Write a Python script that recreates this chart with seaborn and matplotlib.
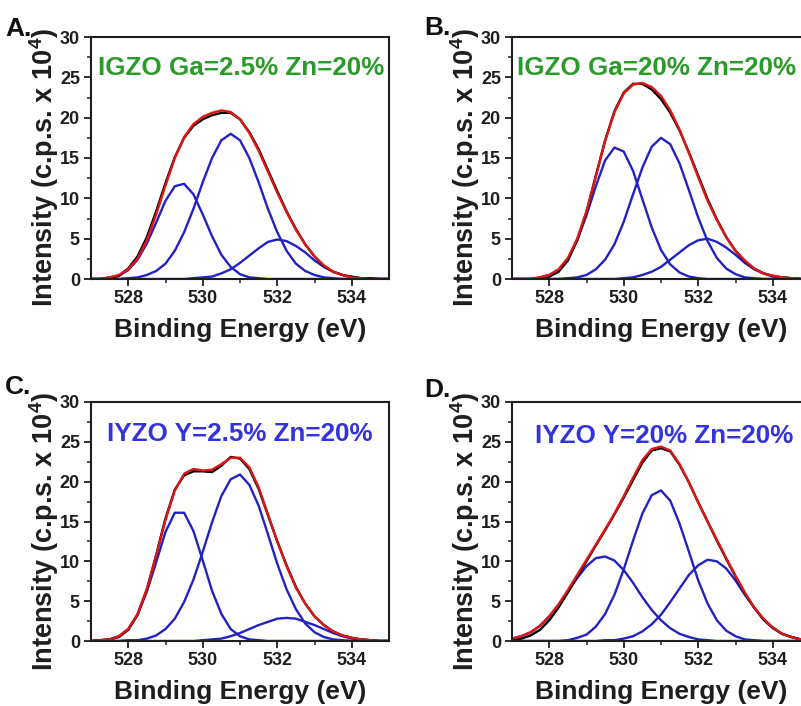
import matplotlib
matplotlib.use("Agg")
import matplotlib.pyplot as plt
import seaborn as sns
import pandas as pd

# ---------------- data ----------------
energy = [527.0, 527.25, 527.5, 527.75, 528.0, 528.25, 528.5, 528.75, 529.0,
          529.25, 529.5, 529.75, 530.0, 530.25, 530.5, 530.75, 531.0, 531.25,
          531.5, 531.75, 532.0, 532.25, 532.5, 532.75, 533.0, 533.25, 533.5,
          533.75, 534.0, 534.25, 534.5, 534.75, 535.0]

# Panel A: IGZO Ga=2.5% Zn=20%
a_peak1 = [0, 0, 0.2, 0.4, 1.1, 2.4, 4.4, 7, 9.7, 11.5, 11.8, 10.5, 8, 5.3, 3, 1.5, 0.6,
           0.2, 0.1, 0, 0, 0, 0, 0, 0, 0, 0, 0, 0, 0, 0, 0, 0]
a_peak2 = [0, 0, 0, 0, 0.1, 0.2, 0.5, 1, 1.9, 3.5, 5.8, 8.7, 12, 15, 17.2, 18, 17.2, 15,
           12, 8.7, 5.8, 3.5, 1.9, 1, 0.5, 0.2, 0.1, 0, 0, 0, 0, 0, 0]
a_peak3 = [0, 0, 0, 0, 0, 0, 0, 0, 0, 0, 0, 0.1, 0.2, 0.3, 0.7, 1.2, 2, 2.9, 3.8, 4.6,
           4.9, 4.7, 4.1, 3.3, 2.3, 1.5, 0.9, 0.5, 0.2, 0.1, 0, 0, 0]
a_fit = [0, 0, 0.2, 0.5, 1.2, 2.5, 4.8, 8, 11.6, 15, 17.6, 19.2, 20.1, 20.6, 20.9, 20.7,
         19.8, 18.1, 15.9, 13.3, 10.7, 8.3, 6.1, 4.3, 2.8, 1.7, 0.9, 0.5, 0.2, 0.1, 0, 0, 0]
a_data = [0, 0, 0.1, 0.4, 1.3, 2.8, 5.2, 8.4, 11.9, 15.1, 17.5, 19.0, 19.8, 20.3, 20.6,
          20.6, 19.8, 18.2, 16.1, 13.5, 10.9, 8.4, 6.2, 4.3, 2.8, 1.6, 0.9, 0.5, 0.3,
          0.1, 0.1, 0, 0]

# Panel B: IGZO Ga=20% Zn=20%
b_peak1 = [0, 0, 0, 0.2, 0.5, 1.1, 2.5, 4.8, 7.9, 11.5, 14.7, 16.3, 15.8, 13.4, 9.9, 6.4,
           3.6, 1.8, 0.8, 0.3, 0.1, 0, 0, 0, 0, 0, 0, 0, 0, 0, 0, 0, 0]
b_peak2 = [0, 0, 0, 0, 0, 0, 0.1, 0.2, 0.5, 1.2, 2.4, 4.3, 7.1, 10.5, 13.8, 16.4, 17.5,
           16.7, 14.3, 11, 7.6, 4.7, 2.6, 1.3, 0.6, 0.2, 0.1, 0, 0, 0, 0, 0, 0]
b_peak3 = [0, 0, 0, 0, 0, 0, 0, 0, 0, 0, 0, 0, 0.1, 0.2, 0.5, 0.9, 1.5, 2.4, 3.3, 4.2,
           4.8, 5, 4.6, 3.9, 3, 2, 1.2, 0.7, 0.3, 0.2, 0.1, 0, 0]
b_fit = [0, 0, 0, 0.2, 0.5, 1.2, 2.6, 5, 8.4, 12.7, 17.1, 20.7, 23, 24.1, 24.3, 23.8,
         22.7, 20.9, 18.5, 15.6, 12.6, 9.7, 7.3, 5.2, 3.5, 2.3, 1.3, 0.7, 0.4, 0.2, 0.1, 0, 0]
b_data = [0, 0, 0, 0.1, 0.3, 0.9, 2.3, 4.8, 8.3, 12.8, 17.2, 20.8, 23.1, 24.2, 24.2, 23.5,
          22.3, 20.6, 18.4, 15.7, 12.8, 9.9, 7.4, 5.2, 3.5, 2.2, 1.3, 0.7, 0.4, 0.2, 0.1,
          0, 0]

# Panel C: IYZO Y=2.5% Zn=20%
c_peak1 = [0, 0.1, 0.2, 0.6, 1.5, 3.3, 6.2, 9.9, 13.7, 16.1, 16.1, 13.8, 10.1, 6.3, 3.4,
           1.5, 0.6, 0.2, 0.1, 0, 0, 0, 0, 0, 0, 0, 0, 0, 0, 0, 0, 0, 0]
c_peak2 = [0, 0, 0, 0, 0.1, 0.1, 0.3, 0.7, 1.5, 2.8, 4.9, 7.7, 11.2, 14.9, 18.2, 20.3,
           20.9, 19.6, 17, 13.4, 9.7, 6.5, 4, 2.2, 1.1, 0.5, 0.2, 0.1, 0, 0, 0, 0, 0]
c_peak3 = [0, 0, 0, 0, 0, 0, 0, 0, 0, 0, 0, 0, 0.1, 0.2, 0.3, 0.6, 1, 1.5, 2, 2.4, 2.8,
           2.9, 2.8, 2.4, 2, 1.5, 1, 0.6, 0.3, 0.2, 0.1, 0, 0]
c_fit = [0, 0.1, 0.2, 0.6, 1.5, 3.4, 6.5, 10.7, 15.2, 18.9, 21, 21.6, 21.4, 21.5, 22.2,
         23.0, 23.0, 21.8, 19.3, 15.9, 12.5, 9.4, 6.7, 4.7, 3.1, 2, 1.2, 0.7, 0.4, 0.2,
         0.1, 0, 0]
c_data = [0, 0.1, 0.2, 0.5, 1.4, 3.3, 6.5, 10.8, 15.4, 19.0, 20.8, 21.3, 21.3, 21.2,
          22.0, 23.1, 22.9, 21.6, 19.1, 15.8, 12.5, 9.5, 6.8, 4.7, 3.1, 2, 1.2, 0.7, 0.4,
          0.2, 0.1, 0, 0]

# Panel D: IYZO Y=20% Zn=20%
d_peak1 = [0.3, 0.6, 1.1, 1.9, 3.1, 4.5, 6.2, 7.9, 9.4, 10.4, 10.6, 10.1, 8.9, 7.3, 5.5,
           3.9, 2.6, 1.6, 0.9, 0.5, 0.2, 0.1, 0, 0, 0, 0, 0, 0, 0, 0, 0, 0, 0]
d_peak2 = [0, 0, 0, 0, 0, 0, 0.1, 0.4, 0.8, 1.8, 3.4, 5.8, 9, 12.6, 16, 18.3, 18.9, 17.6,
           14.7, 11.2, 7.6, 4.7, 2.6, 1.3, 0.6, 0.2, 0.1, 0, 0, 0, 0, 0, 0]
d_peak3 = [0, 0, 0, 0, 0, 0, 0, 0, 0, 0, 0.1, 0.1, 0.3, 0.6, 1.2, 2.1, 3.3, 4.9, 6.6,
           8.3, 9.5, 10.2, 10, 9.1, 7.6, 5.8, 4.2, 2.7, 1.6, 0.9, 0.5, 0.2, 0.1]
d_fit = [0.3, 0.6, 1.1, 1.9, 3.1, 4.6, 6.4, 8.3, 10.2, 12.1, 14, 16, 18.2, 20.5, 22.7,
         24.1, 24.4, 23.9, 22.2, 19.9, 17.4, 15, 12.7, 10.4, 8.2, 6.1, 4.2, 2.8, 1.7, 0.9,
         0.5, 0.2, 0.1]
d_data = [0.1, 0.3, 0.7, 1.4, 2.6, 4.2, 6.1, 8.1, 10.0, 12.0, 13.9, 15.9, 18.0, 20.2,
          22.4, 23.9, 24.2, 23.8, 22.1, 19.9, 17.4, 15.0, 12.6, 10.3, 8.1, 6.0, 4.2, 2.7,
          1.7, 0.9, 0.5, 0.2, 0.1]

panel_names = ["A", "B", "C", "D"]
panel_titles = ["IGZO Ga=2.5% Zn=20%", "IGZO Ga=20% Zn=20%",
                "IYZO Y=2.5% Zn=20%", "IYZO Y=20% Zn=20%"]
x_ticks = [528, 530, 532, 534]
y_ticks = [0, 5, 10, 15, 20, 25, 30]
x_label = "Binding Energy (eV)"
y_label = r"Intensity (c.p.s. x 10$^{4}$)"

panel_data = {
    "A": (a_peak1, a_peak2, a_peak3, a_data, a_fit),
    "B": (b_peak1, b_peak2, b_peak3, b_data, b_fit),
    "C": (c_peak1, c_peak2, c_peak3, c_data, c_fit),
    "D": (d_peak1, d_peak2, d_peak3, d_data, d_fit),
}

# ---------------- styling / layout ----------------
sns.set_theme(style="ticks")
plt.rcParams["font.family"] = ["Liberation Sans", "DejaVu Sans"]
plt.rcParams["font.weight"] = "bold"
plt.rcParams["mathtext.default"] = "regular"

W, H = 801, 706
fig = plt.figure(figsize=(W / 100, H / 100), dpi=100)

# (left, top, bottom) of each axes in pixels; width 298 px
pos = {"A": (91, 37, 279), "B": (512, 37, 279), "C": (91, 402, 641), "D": (512, 402, 641)}
title_style = {"A": ("#2a9a2a", 98, 75), "B": ("#2a9a2a", 517, 75),
               "C": ("#3333dd", 107, 441), "D": ("#3333dd", 535, 443)}
letter_pos = {"A": (5, 36), "B": (424, 35), "C": (5, 394), "D": (424, 397)}

BLUE = "#2222c2"
RED = "#e01515"
DARK = "#1e1e1e"

for name, title in zip(panel_names, panel_titles):
    l, t, b = pos[name]
    ax = fig.add_axes([l / W, 1 - b / H, 298 / W, (b - t) / H])
    p1, p2, p3, data, fit = panel_data[name]
    for comp in (p1, p2, p3):
        df = pd.DataFrame({"energy": energy, "intensity": comp})
        sns.lineplot(data=df, x="energy", y="intensity", ax=ax, color=BLUE, lw=1.7,
                     estimator=None, sort=False)
    sns.lineplot(data=pd.DataFrame({"energy": energy, "intensity": data}),
                 x="energy", y="intensity", ax=ax, color="black", lw=1.7,
                 estimator=None, sort=False)
    sns.lineplot(data=pd.DataFrame({"energy": energy, "intensity": fit}),
                 x="energy", y="intensity", ax=ax, color=RED, lw=1.7,
                 estimator=None, sort=False)
    ax.set_xlim(527, 535)
    ax.set_ylim(0, 30)
    ax.set_xticks(x_ticks)
    ax.set_xticks([529, 531, 533], minor=True)
    ax.set_yticks(y_ticks)
    ax.set_yticks([2.5, 7.5, 12.5, 17.5, 22.5, 27.5], minor=True)
    ax.tick_params(which="major", direction="out", length=5, width=1.3,
                   labelsize=13, pad=3, color=DARK, labelcolor=DARK)
    ax.tick_params(which="minor", direction="out", length=3, width=1.1, color=DARK)
    for sp in ax.spines.values():
        sp.set_linewidth(1.5)
        sp.set_color(DARK)
    for lab in ax.get_xticklabels() + ax.get_yticklabels():
        lab.set_fontweight("bold")
    ax.set_xlabel("")
    ax.set_ylabel("")

    col, tx, ty = title_style[name]
    fig.text(tx / W, 1 - ty / H, title, color=col, fontsize=18.7, fontweight="bold",
             ha="left", va="baseline")
    lx, ly = letter_pos[name]
    fig.text(lx / W, 1 - ly / H, name + ".", fontsize=19, fontweight="bold",
             ha="left", va="baseline", color="#111111")
    cx = (l + 298 / 2) / W
    fig.text(cx, 1 - (b + 51) / H, x_label, fontsize=19, fontweight="bold",
             ha="center", va="center", color=DARK)
    ylx = 44 if l < 300 else 465
    fig.text(ylx / W, 1 - ((t + b) / 2 + 10) / H, y_label, fontsize=19.5,
             fontweight="bold", rotation=90, ha="center", va="center", color=DARK)

fig.savefig("out.png", dpi=100)
